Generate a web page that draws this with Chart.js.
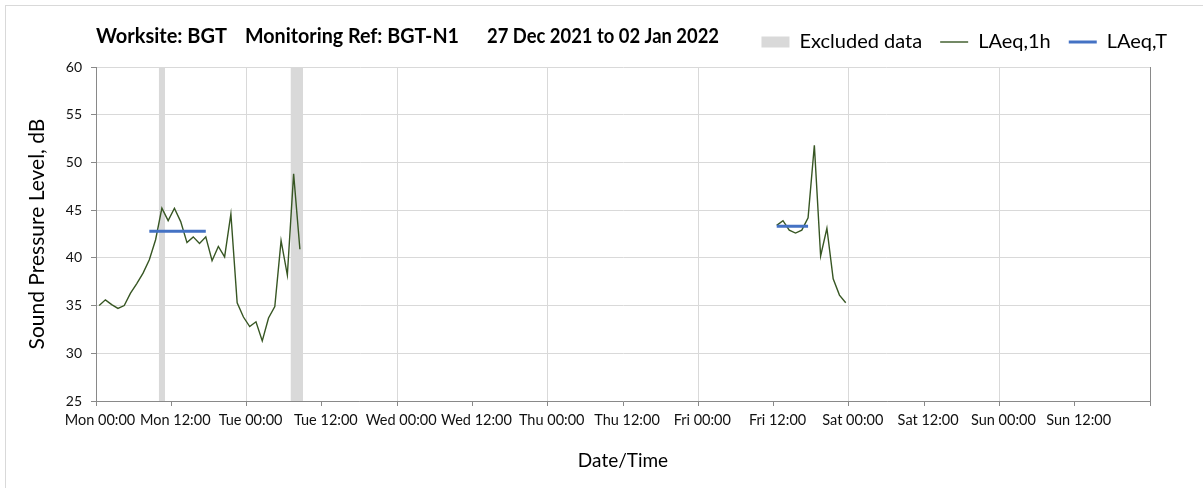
<!DOCTYPE html>
<html>
<head>
<meta charset="utf-8">
<script src="https://cdn.jsdelivr.net/npm/chart.js@4.4.1/dist/chart.umd.min.js"></script>
<style>
  html, body { margin: 0; padding: 0; background: #fff; overflow: hidden; }
  #wrap { position: relative; width: 1203px; height: 488px; }
  #frame { position: absolute; left: 5px; top: 5px; width: 1300px; height: 600px; border: 1px solid #d9d9d9; pointer-events: none; }
  canvas { position: absolute; left: 0; top: 0; }
</style>
</head>
<body>
<div id="wrap">
  <canvas id="c" width="1203" height="488"></canvas>
  <div id="frame"></div>
</div>
<script>
// ---- Data ----
const titleParts = ['Worksite: BGT', 'Monitoring Ref: BGT-N1', '27 Dec 2021 to 02 Jan 2022'];
const tickLabels = ['Mon 00:00', 'Mon 12:00', 'Tue 00:00', 'Tue 12:00', 'Wed 00:00', 'Wed 12:00',
                    'Thu 00:00', 'Thu 12:00', 'Fri 00:00', 'Fri 12:00', 'Sat 00:00', 'Sat 12:00',
                    'Sun 00:00', 'Sun 12:00'];
// hourly LAeq,1h — hours since Mon 00:00 (mid-hour)
const laeq1hMonTueHours = [0.5, 1.5, 2.5, 3.5, 4.5, 5.5, 6.5, 7.5, 8.5, 9.5, 10.5, 11.5, 12.5, 13.5, 14.5, 15.5,
                           16.5, 17.5, 18.5, 19.5, 20.5, 21.5, 22.5, 23.5, 24.5, 25.5, 26.5, 27.5, 28.5, 29.5,
                           30.5, 31.5, 32.5];
const laeq1hMonTue = [35.0, 35.6, 35.1, 34.7, 35.0, 36.3, 37.3, 38.4, 39.8, 41.9, 45.2, 43.9, 45.2, 43.8, 41.6, 42.2,
                      41.5, 42.2, 39.7, 41.2, 40.1, 44.6, 35.3, 33.8, 32.8, 33.3, 31.3, 33.7, 34.9, 41.8,
                      38.2, 48.8, 40.9];
const laeq1hFriHours = [108.5, 109.5, 110.5, 111.5, 112.5, 113.5, 114.5, 115.5, 116.5, 117.5, 118.5, 119.5];
const laeq1hFri = [43.4, 43.9, 42.9, 42.6, 42.9, 44.2, 51.8, 40.2, 43.1, 37.8, 36.1, 35.3];
// LAeq,T periods: [startHour, endHour, level]
const laeqTMon = [8.5, 17.5, 42.8];
const laeqTFri = [108.5, 113.5, 43.3];
// excluded data periods [startHour, endHour]
const excluded1 = [10, 11];
const excluded2 = [31, 33];

// ---- Styles ----
const FONT = 'Lato, "Open Sans", sans-serif';
const GREEN = '#375623';
const BLUE = '#4472C4';
const GREY_BAND = '#d9d9d9';
const AXIS = '#898989';

const lineData = laeq1hMonTueHours.map((h, i) => ({ x: h, y: laeq1hMonTue[i] }))
  .concat([{ x: 60, y: null }])
  .concat(laeq1hFriHours.map((h, i) => ({ x: h, y: laeq1hFri[i] })));
const laeqTData = [
  { x: laeqTMon[0], y: laeqTMon[2] }, { x: laeqTMon[1], y: laeqTMon[2] },
  { x: 60, y: null },
  { x: laeqTFri[0], y: laeqTFri[2] }, { x: laeqTFri[1], y: laeqTFri[2] }
];
function band(p) {
  return {
    label: 'Excluded data',
    data: [{ x: p[0], y: 60 }, { x: p[1], y: 60 }],
    borderWidth: 0, borderColor: 'rgba(0,0,0,0)', backgroundColor: GREY_BAND,
    pointRadius: 0, fill: 'start', order: 10
  };
}

const titlePlugin = {
  id: 'sheetTitle',
  afterDraw(chart) {
    const ctx = chart.ctx;
    ctx.save();
    ctx.font = 'bold 20px ' + FONT;
    ctx.fillStyle = '#000';
    ctx.textBaseline = 'middle';
    const xs = [96, 245, 487];
    const maxW = [132, 214, 232];
    titleParts.forEach((t, i) => ctx.fillText(t, xs[i], 37, maxW[i]));
    ctx.restore();
  }
};
const legendLayout = {
  id: 'legendLayout',
  beforeInit(chart) {
    const fit = chart.legend.fit;
    chart.legend.fit = function () { fit.bind(chart.legend)(); this.height = 53; };
  },
  afterLayout(chart) {
    chart.legend.left += 35;
    chart.legend.right += 35;
  }
};

new Chart(document.getElementById('c'), {
  type: 'line',
  data: {
    datasets: [
      { label: 'LAeq,T', data: laeqTData, borderColor: BLUE, borderWidth: 3, pointRadius: 0, spanGaps: false, order: 1, borderCapStyle: 'butt' },
      { label: 'LAeq,1h', data: lineData, borderColor: GREEN, borderWidth: 1.4, pointRadius: 0, spanGaps: false, order: 2, tension: 0 },
      band(excluded1),
      band(excluded2)
    ]
  },
  options: {
    responsive: false,
    animation: false,
    layout: { padding: { left: 0, right: 53, top: 14, bottom: 0 } },
    plugins: {
      tooltip: { enabled: false },
      title: { display: false },
      legend: {
        position: 'top',
        align: 'end',
        labels: {
          font: { family: FONT, size: 20 },
          color: '#000',
          usePointStyle: true,
          pointStyleWidth: 28,
          boxHeight: 11,
          padding: 18,
          generateLabels() {
            return [
              { text: 'Excluded data', fillStyle: GREY_BAND, strokeStyle: GREY_BAND, lineWidth: 0, pointStyle: 'rect', hidden: false, fontColor: '#000' },
              { text: 'LAeq,1h', fillStyle: GREEN, strokeStyle: GREEN, lineWidth: 1.4, pointStyle: 'line', hidden: false, fontColor: '#000' },
              { text: 'LAeq,T', fillStyle: BLUE, strokeStyle: BLUE, lineWidth: 3, pointStyle: 'line', hidden: false, fontColor: '#000' }
            ];
          }
        }
      }
    },
    scales: {
      x: {
        type: 'linear',
        min: 0, max: 168,
        afterFit(s) { s.height = 87; },
        afterBuildTicks(s) { s.ticks = []; for (let v = 0; v <= 168; v += 12) s.ticks.push({ value: v }); },
        ticks: {
          autoSkip: false, maxRotation: 0, padding: 6, labelOffset: 4,
          font: { family: FONT, size: 14.5 }, color: '#111',
          callback(v) { return tickLabels[Math.round(v / 12)] || ''; }
        },
        grid: {
          color(c) { if (!c.tick) return 'rgba(0,0,0,0)'; const v = c.tick.value; if (v === 168) return AXIS; return (v % 24 === 0 && v > 0) ? GREY_BAND : 'rgba(0,0,0,0)'; },
          lineWidth: 1, tickLength: 5, tickColor: AXIS, drawTicks: true
        },
        border: { color: AXIS, width: 1 },
        title: { display: true, text: 'Date/Time', font: { family: FONT, size: 19 }, color: '#000', padding: { top: 0, bottom: 16 } }
      },
      y: {
        min: 25, max: 60,
        afterFit(s) { s.width = 96; },
        ticks: { stepSize: 5, padding: 9, font: { family: FONT, size: 14 }, color: '#111' },
        grid: { color: GREY_BAND, lineWidth: 1, tickLength: 5, tickColor: AXIS },
        border: { color: AXIS, width: 1 },
        title: { display: true, text: 'Sound Pressure Level, dB', font: { family: FONT, size: 21 }, color: '#000', padding: { top: 25, bottom: 0 } }
      }
    }
  },
  plugins: [titlePlugin, legendLayout]
});
</script>
</body>
</html>
